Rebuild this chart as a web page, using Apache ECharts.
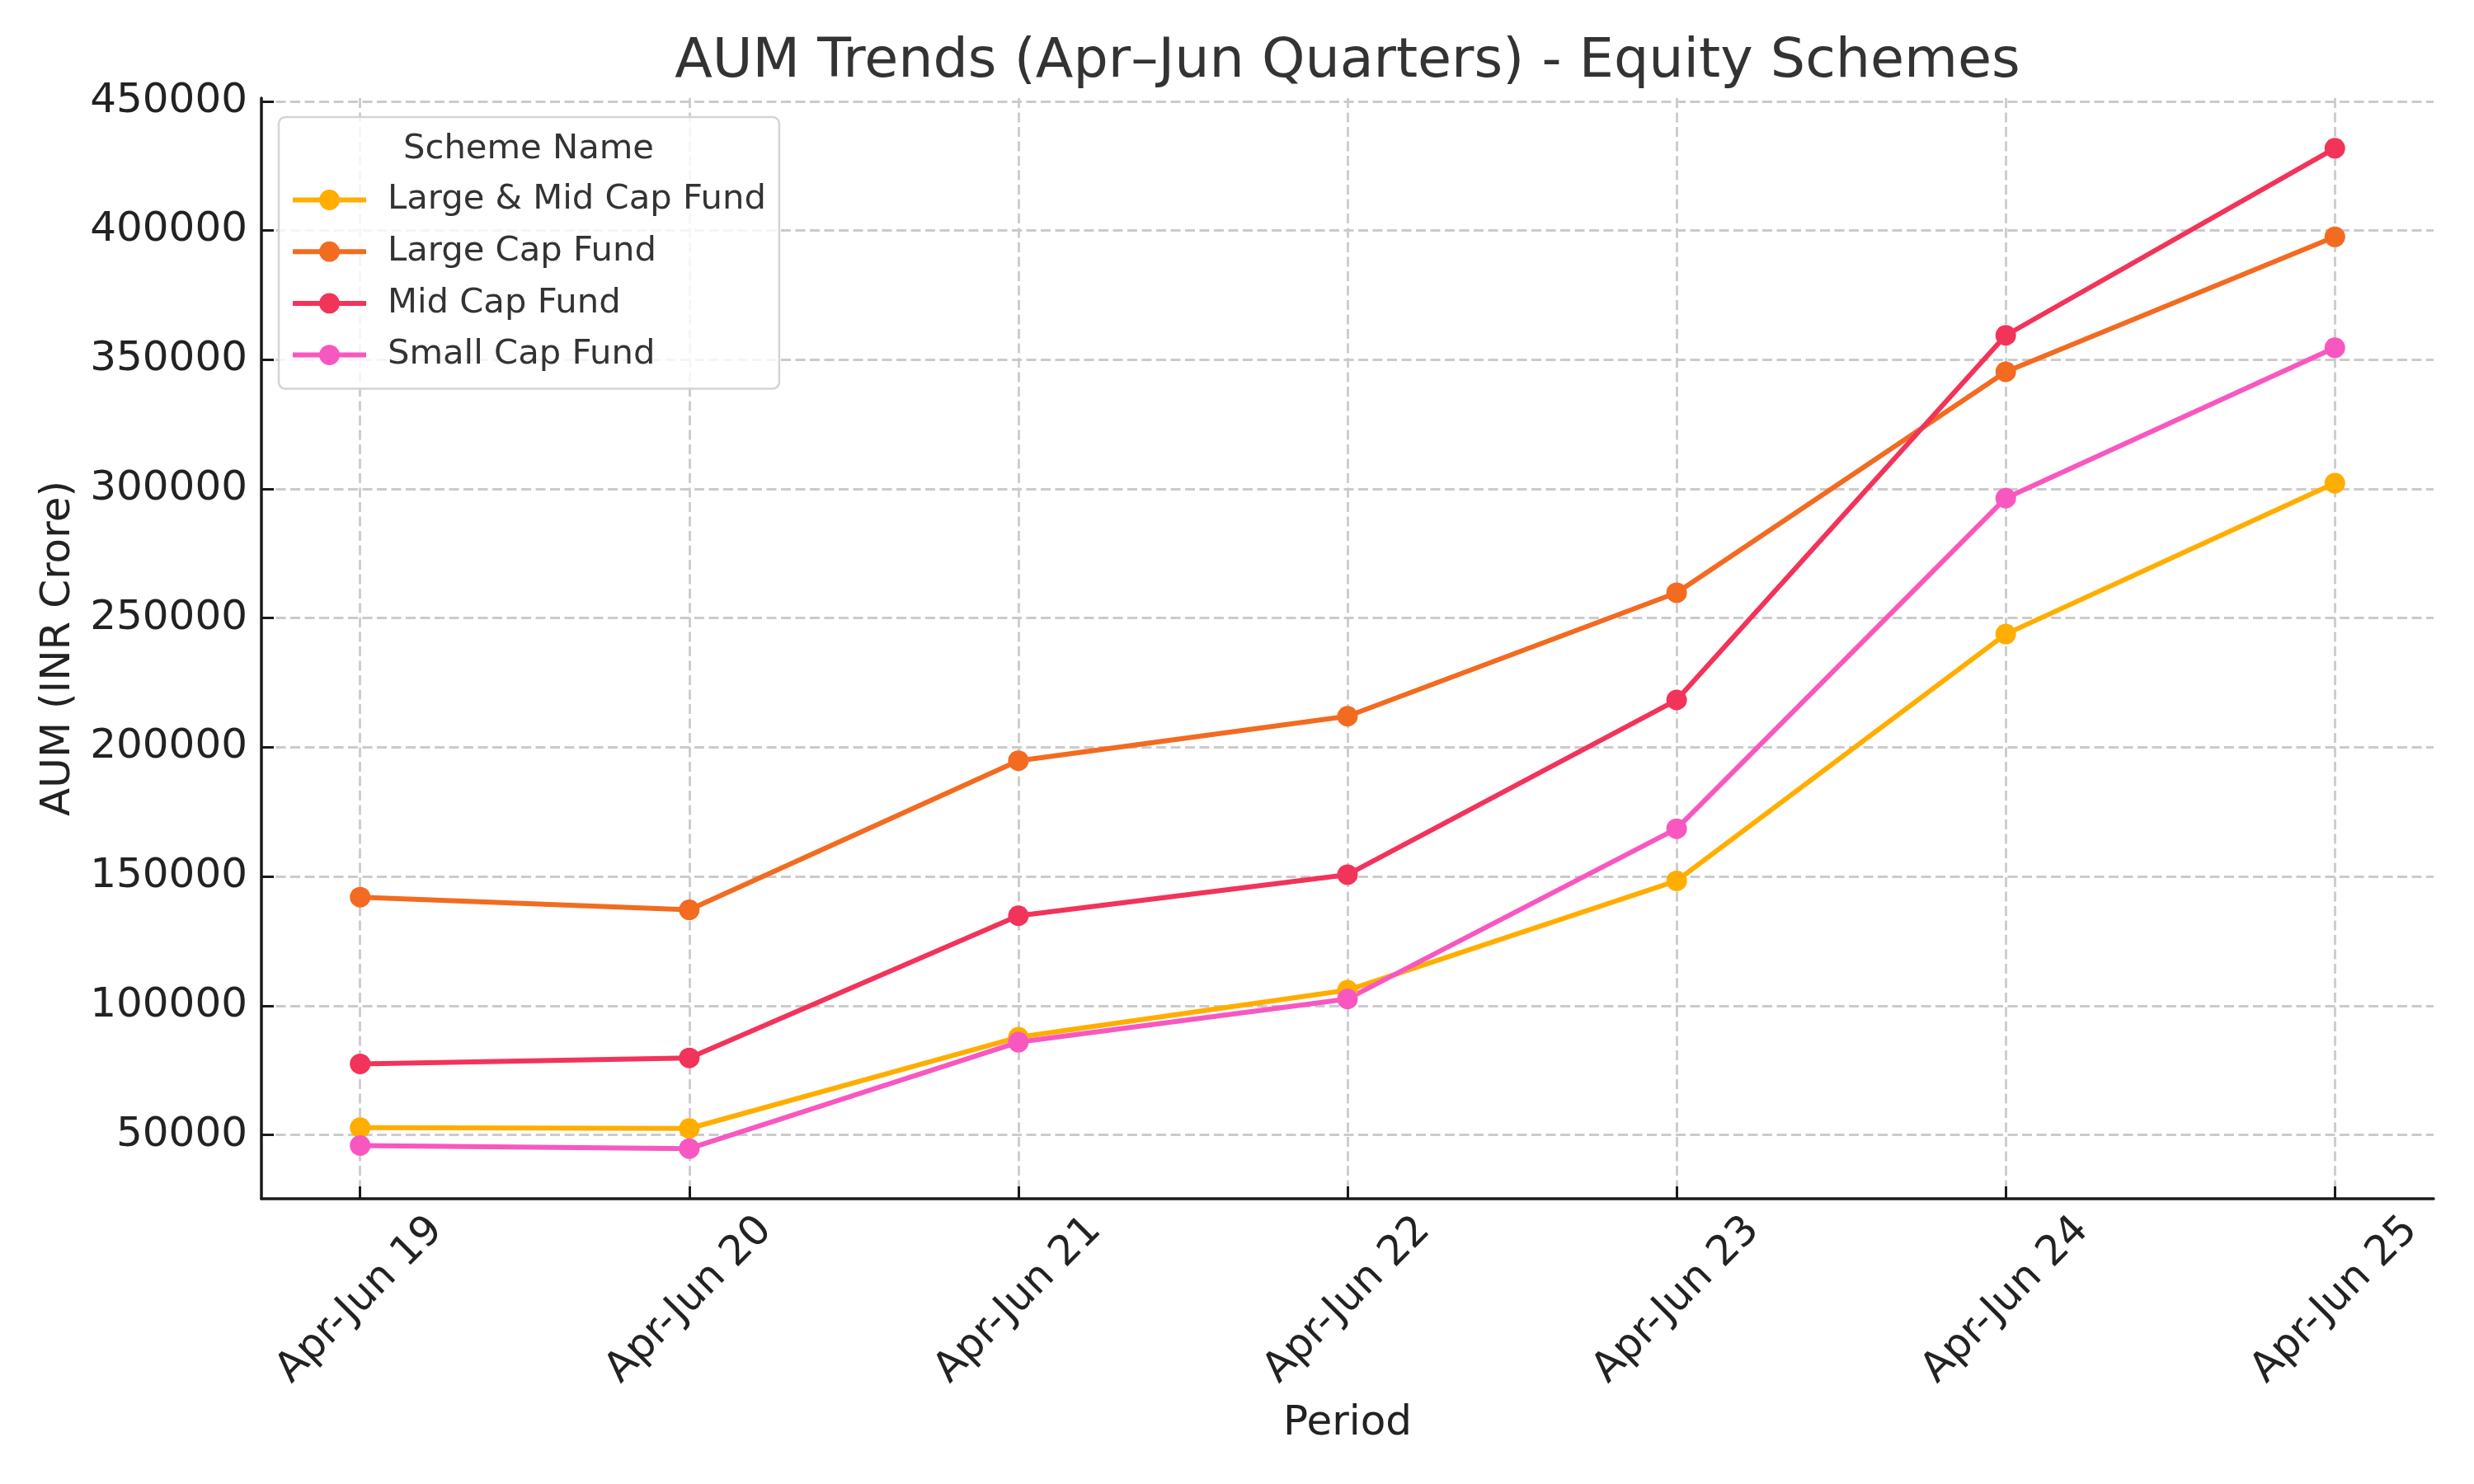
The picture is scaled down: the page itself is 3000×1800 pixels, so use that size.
<!DOCTYPE html>
<html lang="en">
    <head>
        <meta charset="utf-8">
        <title>AUM Trends - Equity Schemes</title>
        <script src="https://cdn.jsdelivr.net/npm/echarts@6.0.0/dist/echarts.min.js"></script>
        <style>
            body { margin: 0; background: #ffffff; }
        </style>
    </head>
    <body>
        <div id="main" style="width: 3000px;height: 1800px;"></div>

        <script type="text/javascript">

            // data (INR crore)
            const categories = ['Apr-Jun 19', 'Apr-Jun 20', 'Apr-Jun 21', 'Apr-Jun 22', 'Apr-Jun 23', 'Apr-Jun 24', 'Apr-Jun 25'];
            const seriesNames = ['Large & Mid Cap Fund', 'Large Cap Fund', 'Mid Cap Fund', 'Small Cap Fund'];
            const largeMidCap = [52800, 52500, 87800, 106000, 148300, 243800, 302200];
            const largeCap = [142000, 137100, 194800, 212000, 259800, 345300, 397500];
            const midCap = [77500, 79800, 134800, 150700, 218300, 359400, 431800];
            const smallCap = [45900, 44700, 85900, 102600, 168500, 296400, 354600];
            const colors = ['#ffae00', '#f26b21', '#f2335a', '#f857c0'];

            // y axis: labelled ticks and the padded extent of the plot
            const yTickMin = 50000, yTickMax = 450000, yTickStep = 50000;
            const yMin = 25300, yMax = 451200;

            // plot frame in pixels
            const frame = { left: 317, right: 49, top: 119, bottom: 346 };
            const catStep = (3000 - frame.left - frame.right) / 6.6;
            const plotH = 1800 - frame.top - frame.bottom;
            const yPix = v => (1800 - frame.bottom) - (v - yMin) / (yMax - yMin) * plotH;

            const font = 'DejaVu Sans';
            const axisColor = '#1a1a1a';
            const gridLine = { show: true, lineStyle: { color: '#cbcbcb', width: 2.8, type: [12, 5.5] } };

            let myChart = echarts.init(document.getElementById('main'));

            let options = {
                animation: false,
                backgroundColor: '#ffffff',
                textStyle: { fontFamily: font },
                title: [
                    {
                        text: 'AUM Trends (Apr\u2013Jun Quarters) - Equity Schemes',
                        left: (frame.left + 3000 - frame.right) / 2,
                        top: 42,
                        padding: 0,
                        textAlign: 'center',
                        textStyle: { fontFamily: font, fontSize: 66.7, fontWeight: 'normal', color: '#333333' }
                    },
                    {
                        text: 'Scheme Name',
                        left: 641,
                        top: 160,
                        padding: 0,
                        textAlign: 'center',
                        z: 10,
                        textStyle: { fontFamily: font, fontSize: 41.7, fontWeight: 'normal', color: '#333333' }
                    }
                ],
                legend: {
                    data: seriesNames,
                    orient: 'vertical',
                    left: 338,
                    top: 142,
                    padding: [79.5, 16, 20, 14],
                    itemWidth: 89,
                    itemHeight: 31,
                    itemGap: 20.7,
                    backgroundColor: 'rgba(255,255,255,0.8)',
                    borderColor: '#d4d4d4',
                    borderWidth: 2.5,
                    borderRadius: 8,
                    z: 5,
                    lineStyle: { width: 6 },
                    textStyle: { fontFamily: font, fontSize: 41.7, color: '#333333', lineHeight: 31, padding: [0, 0, 0, 21] }
                },
                grid: [
                    // frame: axis lines and axis names
                    { left: frame.left, right: frame.right, top: frame.top, bottom: frame.bottom, outerBoundsMode: 'none' },
                    // horizontal grid: y ticks and labels
                    { left: frame.left, right: frame.right, top: yPix(yTickMax), bottom: 1800 - yPix(yTickMin), outerBoundsMode: 'none' },
                    // data grid: categories sit 0.3 step inside the frame
                    { left: frame.left + 0.3 * catStep, right: frame.right + 0.3 * catStep, top: frame.top, bottom: frame.bottom, outerBoundsMode: 'none' }
                ],
                xAxis: [
                    {
                        gridIndex: 0, type: 'value', min: 0, max: 1,
                        name: 'Period', nameLocation: 'middle', nameGap: 248,
                        nameTextStyle: { fontFamily: font, fontSize: 50, color: '#222222' },
                        axisLine: { show: true, lineStyle: { color: axisColor, width: 3.5 } },
                        axisTick: { show: false }, axisLabel: { show: false }, splitLine: { show: false }
                    },
                    { gridIndex: 1, type: 'value', min: 0, max: 1, show: false },
                    {
                        gridIndex: 2, type: 'category', data: categories, boundaryGap: false,
                        axisLine: { show: false },
                        axisTick: { show: true, inside: true, length: 15, interval: 0, lineStyle: { color: axisColor, width: 3 } },
                        axisLabel: {
                            interval: 0, rotate: 45, align: 'center', verticalAlign: 'middle', margin: 123,
                            fontFamily: font, fontSize: 50, color: '#222222'
                        },
                        splitLine: Object.assign({ interval: 0 }, gridLine)
                    }
                ],
                yAxis: [
                    {
                        gridIndex: 0, type: 'value', min: 0, max: 1,
                        name: 'AUM (INR Crore)', nameLocation: 'middle', nameGap: 221,
                        nameTextStyle: { fontFamily: font, fontSize: 50, color: '#222222' },
                        axisLine: { show: true, lineStyle: { color: axisColor, width: 3.5 } },
                        axisTick: { show: false }, axisLabel: { show: false }, splitLine: { show: false }
                    },
                    {
                        gridIndex: 1, type: 'value', min: yTickMin, max: yTickMax, interval: yTickStep,
                        axisLine: { show: false },
                        axisTick: { show: true, inside: true, length: 15, lineStyle: { color: axisColor, width: 3 } },
                        axisLabel: {
                            margin: 17, fontFamily: font, fontSize: 50, color: '#222222',
                            formatter: v => String(v)
                        },
                        splitLine: gridLine
                    },
                    { gridIndex: 2, type: 'value', min: yMin, max: yMax, show: false }
                ],
                series: [largeMidCap, largeCap, midCap, smallCap].map((values, i) => ({
                    name: seriesNames[i],
                    type: 'line',
                    xAxisIndex: 2,
                    yAxisIndex: 2,
                    data: values,
                    symbol: 'circle',
                    symbolSize: 25,
                    showSymbol: true,
                    color: colors[i],
                    lineStyle: { width: 6, color: colors[i] },
                    itemStyle: { color: colors[i] },
                    emphasis: { disabled: true }
                }))
            };

            myChart.setOption(options);

        </script>
    </body>
</html>
